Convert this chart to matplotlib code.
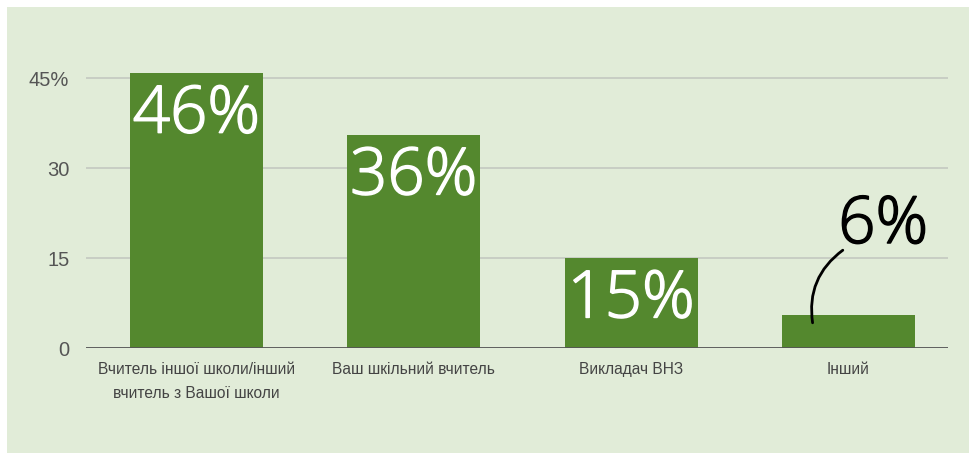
import matplotlib
matplotlib.use("Agg")
import matplotlib.pyplot as plt
from matplotlib.patches import Rectangle
import matplotlib.patheffects as pe

categories = ["Вчитель іншої школи/інший\nвчитель з Вашої школи",
              "Ваш шкільний вчитель",
              "Викладач ВНЗ",
              "Інший"]
values = [45.8, 35.5, 15.0, 5.5]
value_labels = ["46%", "36%", "15%", "6%"]
yticks = [0, 15, 30, 45]
ytick_labels = ["0", "15", "30", "45%"]

bg = "#e1ecd8"
bar_color = "#54882e"

fig = plt.figure(figsize=(9.69, 4.53), dpi=100)
fig.patch.set_facecolor("white")
fig.add_artist(Rectangle((7/969, 0), 1, 446/453, transform=fig.transFigure,
                         facecolor=bg, edgecolor="none", zorder=-10))

ax = fig.add_axes([86/969, 1 - 348/453, (948-86)/969, (348-60)/453])
ax.set_facecolor("none")
x = list(range(len(categories)))
ax.bar(x, values, width=0.612, color=bar_color, zorder=3)
ax.set_xlim(-0.508, 3.458)
ax.set_ylim(0, 48)
ax.set_yticks(yticks)
ax.set_yticklabels(ytick_labels, fontsize=14.5, color="#555555", family="Liberation Sans")
ax.set_xticks(x)
ax.set_xticklabels(categories, fontsize=11.2, color="#444444", family="Liberation Sans",
                   linespacing=1.75)
ax.tick_params(axis="both", length=0)
ax.tick_params(axis="y", pad=12)
ax.tick_params(axis="x", pad=10)
for s in ax.spines.values():
    s.set_visible(False)
ax.grid(axis="y", color="#c4c8c0", linewidth=1.2, zorder=1)
ax.axhline(0, color="#555555", linewidth=2, zorder=4)

for i in range(3):
    ax.text(x[i], values[i] - 9.9, value_labels[i], ha="center", va="baseline",
            fontsize=47, color="white", family="Open Sans", fontweight="light", zorder=5,
            path_effects=[pe.withStroke(linewidth=1.1, foreground="white")])

ax.text(3.16, 17.5, value_labels[3], ha="center", va="baseline",
        fontsize=47, color="black", family="Open Sans", fontweight="light", zorder=6,
        path_effects=[pe.withStroke(linewidth=1.1, foreground="black")])
ax.annotate("", xy=(2.835, 4.2), xytext=(2.974, 16.3),
            arrowprops=dict(arrowstyle="-", color="black", lw=2,
                            shrinkA=0, shrinkB=0,
                            connectionstyle="arc3,rad=0.3"),
            zorder=6)

fig.savefig("out.png", dpi=100, facecolor=fig.get_facecolor())
